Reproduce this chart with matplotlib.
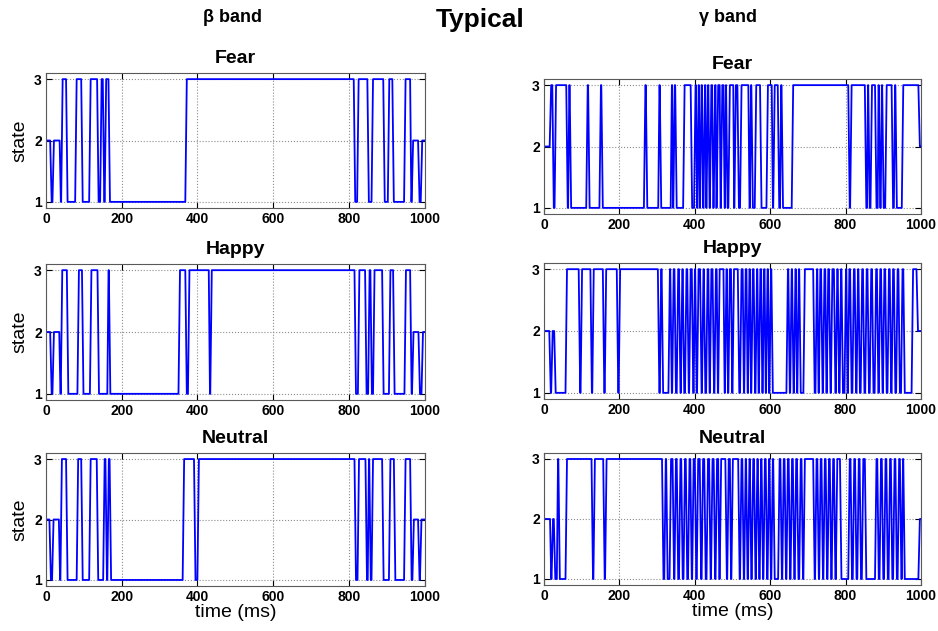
import numpy as np
import matplotlib
matplotlib.use("Agg")
import matplotlib.pyplot as plt

plt.rcParams['font.family'] = ['Liberation Sans', 'DejaVu Sans']

emotions = ["Fear", "Happy", "Neutral"]
band_names = ["\u03b2 band", "\u03b3 band"]
x_ticks = [0, 200, 400, 600, 800, 1000]
y_ticks = [1, 2, 3]

# each series: (start time in ms, state held from then on)
beta_fear = [(0, 2), (11, 1), (17, 2), (36, 1), (40, 3), (53, 1), (77, 3), (93, 1), (114, 3),
             (135, 1), (143, 3), (150, 1), (155, 3), (165, 1), (368, 3), (813, 1), (822, 3),
             (849, 1), (860, 3), (891, 1), (903, 3), (915, 1), (946, 3), (962, 1), (966, 2),
             (983, 1), (990, 2)]
beta_happy = [(0, 2), (11, 1), (17, 2), (35, 1), (39, 3), (55, 1), (83, 3), (95, 1), (116, 3),
              (136, 1), (162, 3), (166, 1), (350, 3), (368, 1), (375, 3), (430, 1), (434, 3),
              (815, 1), (824, 3), (843, 1), (851, 3), (857, 1), (864, 3), (888, 1), (906, 3),
              (917, 1), (947, 3), (962, 1), (967, 2), (984, 1), (992, 2)]
beta_neutral = [(0, 2), (9, 1), (16, 2), (34, 1), (38, 3), (53, 1), (81, 3), (93, 1), (114, 3),
                (134, 1), (151, 3), (157, 1), (162, 3), (168, 1), (361, 3), (391, 1), (400, 3),
                (815, 1), (823, 3), (844, 1), (850, 3), (854, 1), (860, 3), (888, 1), (906, 3),
                (919, 1), (946, 3), (962, 1), (968, 2), (983, 1), (988, 2)]
gamma_fear = [(0, 2), (15, 3), (22, 1), (28, 3), (59, 1), (64, 3), (68, 1), (112, 3), (117, 1),
              (147, 3), (152, 1), (265, 3), (270, 1), (303, 3), (307, 1), (336, 3), (340, 1),
              (343, 3), (348, 1), (369, 3), (389, 1), (398, 3), (403, 1), (407, 3), (411, 1),
              (414, 3), (419, 1), (423, 3), (428, 1), (431, 3), (436, 1), (440, 3), (446, 1),
              (450, 3), (455, 1), (458, 3), (466, 1), (469, 3), (476, 1), (480, 3), (483, 1),
              (489, 3), (502, 1), (505, 3), (513, 1), (520, 3), (542, 1), (546, 3), (550, 1),
              (559, 3), (573, 1), (590, 3), (604, 1), (608, 3), (620, 1), (626, 3), (630, 1),
              (657, 3), (807, 1), (812, 3), (851, 1), (857, 3), (860, 1), (866, 3), (878, 1),
              (885, 3), (888, 1), (893, 3), (897, 1), (905, 3), (922, 1), (928, 3), (932, 1),
              (949, 3), (993, 2)]
gamma_happy = [(0, 2), (14, 1), (19, 2), (27, 1), (57, 3), (92, 1), (97, 3), (123, 1), (128, 3),
               (156, 1), (161, 3), (193, 1), (198, 3), (302, 1), (307, 3), (312, 1), (330, 3),
               (335, 1), (340, 3), (346, 1), (352, 3), (358, 1), (363, 3), (368, 1), (374, 3),
               (380, 1), (385, 3), (392, 1), (397, 3), (401, 1), (406, 3), (414, 1), (419, 3),
               (424, 1), (430, 3), (436, 1), (440, 3), (447, 1), (452, 3), (458, 1), (462, 3),
               (476, 1), (480, 3), (485, 1), (489, 3), (496, 1), (500, 3), (514, 1), (520, 3),
               (527, 1), (531, 3), (537, 1), (541, 3), (546, 1), (550, 3), (556, 1), (561, 3),
               (566, 1), (570, 3), (576, 1), (580, 3), (585, 1), (589, 3), (594, 1), (598, 3),
               (603, 1), (643, 3), (648, 1), (653, 3), (658, 1), (663, 3), (668, 1), (672, 3),
               (677, 1), (688, 3), (714, 1), (720, 3), (725, 1), (729, 3), (735, 1), (740, 3),
               (746, 1), (750, 3), (756, 1), (761, 3), (769, 1), (774, 3), (779, 1), (784, 3),
               (789, 1), (797, 3), (802, 1), (806, 3), (812, 1), (818, 3), (824, 1), (829, 3),
               (834, 1), (840, 3), (846, 1), (852, 3), (858, 1), (864, 3), (870, 1), (877, 3),
               (883, 1), (888, 3), (894, 1), (899, 3), (905, 1), (911, 3), (917, 1), (922, 3),
               (928, 1), (934, 3), (940, 1), (947, 3), (953, 1), (975, 3), (988, 2)]
gamma_neutral = [(0, 2), (16, 1), (20, 2), (26, 1), (34, 3), (38, 1), (57, 3), (126, 1), (131, 3),
                 (157, 1), (162, 3), (313, 1), (319, 3), (324, 1), (333, 3), (341, 1), (346, 3),
                 (352, 1), (358, 3), (364, 1), (370, 3), (376, 1), (382, 3), (388, 1), (393, 3),
                 (400, 1), (405, 3), (413, 1), (418, 3), (425, 1), (431, 3), (438, 1), (443, 3),
                 (450, 1), (455, 3), (462, 1), (466, 3), (481, 1), (486, 3), (493, 1), (497, 3),
                 (515, 1), (520, 3), (526, 1), (531, 3), (536, 1), (541, 3), (546, 1), (551, 3),
                 (557, 1), (562, 3), (567, 1), (572, 3), (577, 1), (582, 3), (588, 1), (593, 3),
                 (598, 1), (603, 3), (608, 1), (621, 3), (627, 1), (632, 3), (638, 1), (643, 3),
                 (649, 1), (654, 3), (660, 1), (665, 3), (671, 1), (677, 3), (683, 1), (688, 3),
                 (714, 1), (719, 3), (725, 1), (730, 3), (736, 1), (741, 3), (747, 1), (752, 3),
                 (758, 1), (763, 3), (769, 1), (774, 3), (785, 1), (807, 3), (813, 1), (819, 3),
                 (825, 1), (831, 3), (837, 1), (843, 3), (851, 1), (878, 3), (884, 1), (890, 3),
                 (896, 1), (902, 3), (908, 1), (914, 3), (920, 1), (926, 3), (932, 1), (938, 3),
                 (944, 1), (949, 3), (953, 1), (993, 2)]

series = [[beta_fear, gamma_fear], [beta_happy, gamma_happy], [beta_neutral, gamma_neutral]]


def step_path(runs, t_end=1000, ramp=4.0):
    # each change of state is drawn as a short slanted line, like a sampled signal
    xs = [runs[0][0]]
    ys = [runs[0][1]]
    for i in range(1, len(runs)):
        t1, s1 = runs[i]
        t_next = runs[i + 1][0] if i + 1 < len(runs) else t_end
        r = min(ramp, 0.8 * (t_next - t1))
        xs += [t1, t1 + r]
        ys += [runs[i - 1][1], s1]
    xs.append(t_end)
    ys.append(runs[-1][1])
    return np.array(xs), np.array(ys)


W, H = 938, 631
fig = plt.figure(figsize=(W / 100, H / 100), dpi=100)

# axes boxes in pixels: (left, right) per column, (top, bottom) per row and column
col_x = [(46, 424.5), (544, 921)]
row_y = [[(73, 208), (79, 214)], [(264, 400), (263, 399)], [(453, 586), (453, 585)]]

for r in range(3):
    for c in range(2):
        x0, x1 = col_x[c]
        y0, y1 = row_y[r][c]
        ax = fig.add_axes([x0 / W, 1 - y1 / H, (x1 - x0) / W, (y1 - y0) / H])
        xs, ys = step_path(series[r][c])
        ax.plot(xs, ys, color=(0, 0, 1), lw=1.3)
        ax.set_xlim(0, 1000)
        ax.set_ylim(0.9, 3.1)
        ax.set_xticks(x_ticks)
        ax.set_yticks(y_ticks)
        ax.grid(True, color='0.55', linestyle=':', lw=0.8)
        ax.tick_params(direction='in', top=True, right=True, length=4, width=0.8,
                       labelsize=10, pad=3)
        for lab in ax.get_xticklabels() + ax.get_yticklabels():
            lab.set_fontweight('bold')
        for sp in ax.spines.values():
            sp.set_color('0.35')
            sp.set_linewidth(0.8)
        ax.set_title(emotions[r], fontsize=14, fontweight='bold', pad=7)
        if c == 0:
            ax.set_ylabel("state", fontsize=14, labelpad=4)
        if r == 2:
            ax.set_xlabel("time (ms)", fontsize=14, labelpad=0)

fig.text(480 / W, 1 - 20 / H, "Typical", fontsize=19, fontweight='bold', ha='center', va='center')
fig.text(232 / W, 1 - 18 / H, band_names[0], fontsize=13, fontweight='bold', ha='center', va='center')
fig.text(728 / W, 1 - 18 / H, band_names[1], fontsize=13, fontweight='bold', ha='center', va='center')

fig.savefig("out.png", dpi=100)
